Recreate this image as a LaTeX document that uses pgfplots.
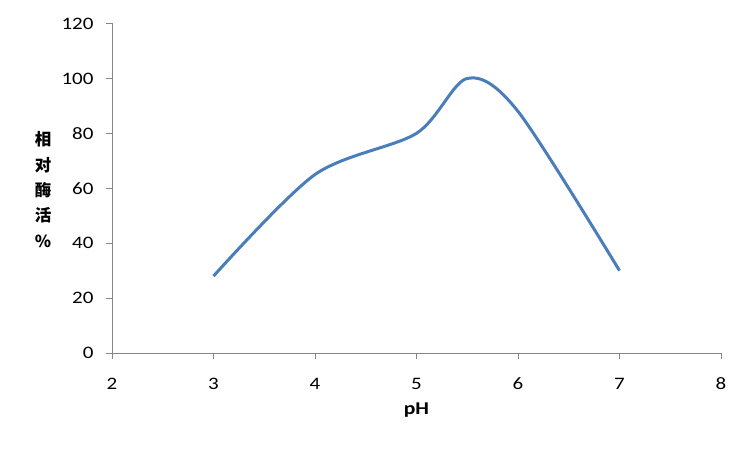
\documentclass[border=0pt]{standalone}
\usepackage{pgfplots}
\pgfplotsset{compat=1.18}
\usepackage{fontspec}
\setmainfont{Carlito}
\newfontfamily\tickfont[FakeStretch=1.2]{Carlito}
\newfontfamily\cjk{Noto Sans CJK SC}
\definecolor{line}{RGB}{74,126,187}
\definecolor{axgray}{RGB}{134,134,134}
\begin{document}
\begin{tikzpicture}[x=1pt,y=1pt]
\path[use as bounding box] (0,0) rectangle (750,450);
\begin{axis}[
  at={(112pt,97pt)}, anchor=south west,
  scale only axis, width=609pt, height=329.5pt,
  xmin=2, xmax=8, ymin=0, ymax=120,
  xtick={2,3,...,8}, ytick={0,20,...,120},
  axis x line*=bottom, axis y line*=left,
  axis line style={axgray, line width=0.9pt, -},
  tick style={axgray, line width=0.9pt},
  tick align=outside, major tick length=6pt,
  /pgf/number format/assume math mode=true,
  tick label style={font=\tickfont\fontsize{17.5}{19}\selectfont, text=black},
  xticklabel style={anchor=center, yshift=-25pt},
  yticklabel style={anchor=east, xshift=-9pt},
  xlabel={\bfseries pH},
  xlabel style={font=\tickfont\fontsize{18}{20}\selectfont, at={(axis description cs:0.5,0)}, anchor=center, yshift=-57pt},
]
\addplot[line, line width=3pt, smooth, tension=0.5] coordinates {
 (3,28) (4,65) (5,80) (5.5,100) (6,88) (7,30)
};
\end{axis}
\node[font=\cjk\bfseries\fontsize{16.5}{25.3}\selectfont, align=center, anchor=center] at (43,260.5) {相\\对\\酶\\活\\\%};
\end{tikzpicture}
\end{document}
